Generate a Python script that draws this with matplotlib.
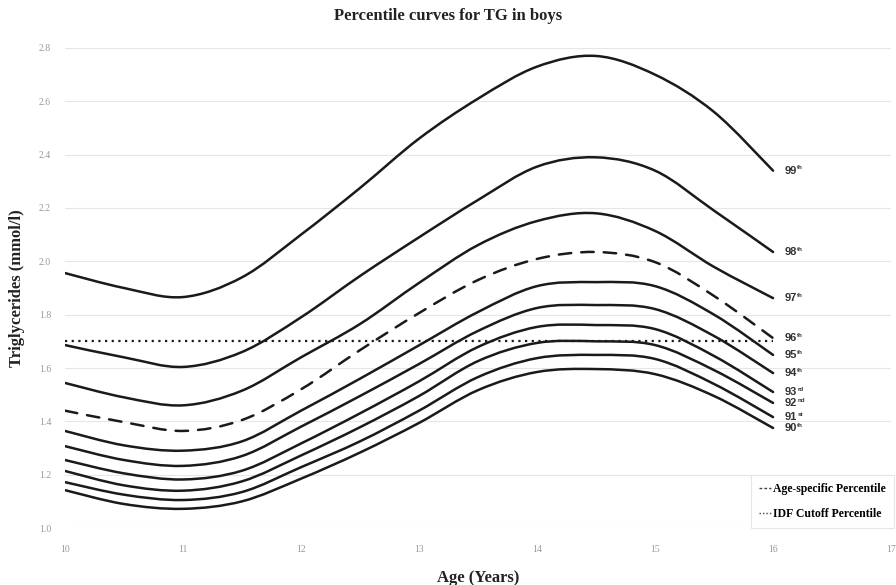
import numpy as np
import matplotlib.pyplot as plt
from matplotlib.lines import Line2D
from matplotlib.path import Path
from matplotlib.patches import PathPatch

age = [10, 10.5, 11, 11.5, 12, 12.5, 13, 13.5, 14, 14.5, 15, 15.5, 16]

p99 = [1.956, 1.90, 1.866, 1.94, 2.10, 2.275, 2.46, 2.61, 2.73, 2.77, 2.70, 2.56, 2.34]
p98 = [1.686, 1.64, 1.604, 1.66, 1.79, 1.945, 2.09, 2.23, 2.355, 2.39, 2.34, 2.19, 2.035]
p97 = [1.544, 1.49, 1.46, 1.515, 1.64, 1.765, 1.919, 2.061, 2.151, 2.18, 2.114, 1.979, 1.862]
p96 = [1.44, 1.397, 1.364, 1.405, 1.52, 1.667, 1.806, 1.93, 2.009, 2.035, 1.997, 1.87, 1.712]
p95 = [1.364, 1.31, 1.29, 1.325, 1.44, 1.56, 1.685, 1.81, 1.907, 1.922, 1.907, 1.80, 1.649]
p94 = [1.307, 1.255, 1.233, 1.27, 1.38, 1.495, 1.615, 1.739, 1.825, 1.836, 1.821, 1.72, 1.581]
p93 = [1.255, 1.205, 1.182, 1.215, 1.317, 1.43, 1.55, 1.679, 1.754, 1.761, 1.746, 1.645, 1.51]
p92 = [1.214, 1.16, 1.14, 1.175, 1.272, 1.378, 1.495, 1.626, 1.694, 1.70, 1.686, 1.592, 1.469]
p91 = [1.172, 1.125, 1.105, 1.135, 1.228, 1.325, 1.44, 1.566, 1.637, 1.649, 1.634, 1.54, 1.416]
p90 = [1.142, 1.09, 1.072, 1.10, 1.185, 1.283, 1.394, 1.517, 1.585, 1.596, 1.577, 1.495, 1.375]

curves = [p99, p98, p97, p96, p95, p94, p93, p92, p91, p90]
names = ["99", "98", "97", "96", "95", "94", "93", "92", "91", "90"]
sups = ["th", "th", "th", "th", "th", "th", "rd", "nd", "st", "th"]

idf_cutoff = 1.70
xticks = [10, 11, 12, 13, 14, 15, 16, 17]
yticks = [1.0, 1.2, 1.4, 1.6, 1.8, 2.0, 2.2, 2.4, 2.6, 2.8]

serif = "Liberation Serif"
sans = "Liberation Sans"


def smooth_path(x, y):
    # Excel-style smoothed line: bezier segments passing through every point
    pts = np.column_stack([x, y]).astype(float)
    n = len(pts)
    verts = [pts[0]]
    codes = [Path.MOVETO]
    for i in range(n - 1):
        p0 = pts[max(i - 1, 0)]
        p1 = pts[i]
        p2 = pts[i + 1]
        p3 = pts[min(i + 2, n - 1)]
        c1 = p1 + (p2 - p0) / 6.0
        c2 = p2 - (p3 - p1) / 6.0
        verts += [c1, c2, p2]
        codes += [Path.CURVE4] * 3
    return Path(verts, codes)


fig = plt.figure(figsize=(8.96, 5.85), dpi=100)
ax = fig.add_axes([0.0725, 0.0974, 0.922, 0.8206])

for name, vals in zip(names, curves):
    ls = (0, (5, 4)) if name == "96" else "-"
    ax.add_patch(PathPatch(smooth_path(age, vals), fill=False, edgecolor="#1a1a1a",
                           lw=1.8, ls=ls, capstyle="round"))

ax.plot([age[0], age[-1]], [idf_cutoff, idf_cutoff], color="#1a1a1a", lw=1.6, ls=(0, (1, 2)))

# percentile labels at the end of each curve
for name, sup, vals in zip(names, sups, curves):
    ax.annotate(name, (age[-1], vals[-1]), xytext=(8, 0), textcoords="offset points",
                fontsize=8, fontweight="bold", family=sans, color="#333333", va="center")
    ax.annotate(sup, (age[-1], vals[-1]), xytext=(17.5, 2), textcoords="offset points",
                fontsize=4.5, fontweight="bold", family=sans, color="#333333", va="center")

ax.set_xlim(10, 17)
ax.set_ylim(1.0, 2.8)
ax.set_xticks(xticks)
ax.set_yticks(yticks)
ax.set_xticklabels([str(x) for x in xticks], family=serif, fontsize=7, color="#999999")
ax.set_yticklabels(["%.1f" % y for y in yticks], family=serif, fontsize=7, color="#999999")
ax.tick_params(length=0, pad=12)
ax.tick_params(axis="y", pad=10)
ax.grid(axis="y", color="#e6e6e6", lw=0.8)
ax.set_axisbelow(True)
for s in ax.spines.values():
    s.set_visible(False)

ax.set_xlabel("Age (Years)", family=serif, fontsize=12, fontweight="bold", color="#222222", labelpad=12)
ax.set_ylabel("Triglycerides (mmol/l)", family=serif, fontsize=12, fontweight="bold", color="#222222", labelpad=10)
fig.text(0.5, 0.972, "Percentile curves for TG in boys", ha="center", va="center",
         family=serif, fontsize=12, fontweight="bold", color="#222222")

handles = [Line2D([0], [0], color="#444444", lw=1, ls=(0, (2, 1.5))),
           Line2D([0], [0], color="#444444", lw=1, ls=(0, (1, 1.5)))]
leg = ax.legend(handles, ["Age-specific Percentile", "IDF Cutoff Percentile"],
                loc="lower right", bbox_to_anchor=(1.004, 0.0), handlelength=1.0, handletextpad=0.2,
                labelspacing=1.1, borderpad=0.7, borderaxespad=0.0, fancybox=False, framealpha=1,
                prop={"family": serif, "weight": "bold", "size": 8.5})
leg.get_frame().set_edgecolor("#e6e6e6")
leg.get_frame().set_linewidth(0.8)

fig.savefig("out.png", dpi=100, facecolor="white")
